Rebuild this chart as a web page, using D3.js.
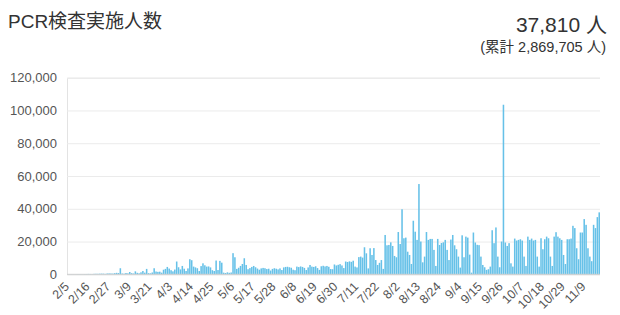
<!DOCTYPE html>
<html>
<head>
<meta charset="utf-8">
<script src="https://cdn.jsdelivr.net/npm/d3@7"></script>
<style>
  body { margin: 0; background: #fff; }
  #container { width: 620px; height: 315px; position: relative; }
  text { font-family: "Liberation Sans", "Noto Sans CJK JP", sans-serif; }
</style>
</head>
<body>
<div id="container"></div>
<script>
"use strict";
// daily PCR tests, one array per month
const febValues = [40, 60, 90, 70, 50, 120, 150, 130, 100, 160, 190, 230, 200, 150, 280, 330, 300, 380, 420, 400, 260, 500, 560, 520, 450];
const marValues = [700, 900, 800, 3700, 500, 400, 800, 600, 1400, 700, 500, 1800, 900, 600, 1200, 2000, 1000, 3300, 700, 600, 1100, 3700, 1700, 1500, 1600, 1000, 2800, 3300];
const aprValues = [4500, 3500, 2500, 1800, 2900, 7800, 4300, 3000, 5100, 3400, 2000, 3600, 9200, 8600, 4700, 4200, 3700, 2000, 5000, 6700, 5500, 4700, 4800, 4200, 2500, 2000, 8400, 2600, 8200, 7100];
const mayValues = [1000, 800, 1200, 900, 1100, 12900, 10400, 3300, 4000, 5100, 6300, 9800, 5700, 3100, 3800, 4500, 5100, 4300, 3500, 2800, 3600, 3900, 3700, 3200, 3400, 2300, 3300, 3700, 3400, 3000, 3600];
const junValues = [2600, 4200, 4500, 4600, 4300, 4000, 2800, 2500, 4700, 4400, 4800, 4500, 3900, 2600, 4200, 5700, 4700, 4500, 4900, 3800, 2700, 4900, 5200, 4800, 5100, 4600, 3200, 3100, 6000, 5400];
const julValues = [5800, 6200, 5400, 3800, 7800, 7500, 7900, 7600, 8300, 4700, 4200, 10500, 10800, 10200, 16500, 12800, 3600, 15900, 11800, 16000, 8700, 5700, 7000, 8700, 3300, 24000, 17700, 17900, 19500, 17300, 11200];
const augValues = [10400, 25800, 18500, 39700, 22000, 22400, 13800, 11800, 6300, 32700, 26000, 21000, 55100, 20000, 7300, 10800, 25800, 21000, 21600, 21600, 14900, 5100, 21600, 17900, 19100, 19500, 21000, 14900, 8700, 21200, 24000];
const sepValues = [17700, 15300, 10800, 4100, 23800, 10400, 23000, 22400, 12000, 1000, 25500, 19400, 18000, 17800, 10800, 5700, 4300, 2700, 3100, 4700, 26900, 19000, 28600, 10800, 4300, 20000, 103500, 19400, 17300, 19000];
const octValues = [6700, 4700, 21800, 20600, 21000, 21400, 20600, 10800, 5100, 23000, 21000, 21800, 20600, 21000, 10800, 4700, 22000, 15300, 21400, 23000, 22000, 10800, 5100, 23000, 25700, 23000, 22000, 21000, 11800, 6300, 21400];
const novValues = [21400, 21800, 29600, 28200, 15900, 9200, 25500, 25500, 33700, 30200, 15900, 10800, 8000, 30200, 28200, 34900, 37810];

// dates with no figure in the source
const skippedDates = ["3/14", "3/28", "3/29"];
const tickLabels = ["2/5", "2/16", "2/27", "3/9", "3/21", "4/3", "4/14", "4/25", "5/6", "5/17", "5/28", "6/8", "6/19", "6/30", "7/11", "7/22", "8/2", "8/13", "8/24", "9/4", "9/15", "9/26", "10/7", "10/18", "10/29", "11/9"];
const yTicks = [0, 20000, 40000, 60000, 80000, 100000, 120000];

const title = "PCR検査実施人数";
const latestText = "37,810 人";
const totalText = "(累計 2,869,705 人)";

const fmtDay = d3.timeFormat("%-m/%-d");
const days = d3.timeDay.range(new Date(2020, 1, 5), new Date(2020, 10, 18))
    .map(fmtDay)
    .filter(d => !skippedDates.includes(d));
const values = [].concat(febValues, marValues, aprValues, mayValues, junValues,
    julValues, augValues, sepValues, octValues, novValues);
const data = days.map((d, i) => ({ day: d, value: values[i] }));

const width = 620, height = 315;
const plotLeft = 67, plotRight = 600, plotTop = 77.7, plotBottom = 274.3;

const svg = d3.select("#container").append("svg")
    .attr("width", width)
    .attr("height", height);

const x = d3.scaleBand()
    .domain(days)
    .range([plotLeft, plotRight])
    .paddingInner(0.18);

const y = d3.scaleLinear()
    .domain([0, 120000])
    .range([plotBottom, plotTop]);

// header texts
svg.append("text")
    .attr("x", 8)
    .attr("y", 28)
    .attr("font-size", 19)
    .attr("fill", "#333")
    .text(title);

svg.append("text")
    .attr("x", 607)
    .attr("y", 32)
    .attr("text-anchor", "end")
    .attr("font-size", 21)
    .attr("fill", "#333")
    .text(latestText);

svg.append("text")
    .attr("x", 606)
    .attr("y", 52)
    .attr("text-anchor", "end")
    .attr("font-size", 14.5)
    .attr("fill", "#333")
    .text(totalText);

// grid + y labels
const yAxis = d3.axisLeft(y)
    .tickValues(yTicks)
    .tickSize(-(plotRight - plotLeft))
    .tickPadding(10)
    .tickFormat(d3.format(","));

svg.append("g")
    .attr("transform", `translate(${plotLeft},0)`)
    .call(yAxis)
    .call(g => g.select(".domain").attr("stroke", "#e3e3e3"))
    .call(g => g.selectAll(".tick line").attr("stroke", "#ebebeb"))
    .call(g => g.selectAll(".tick text")
        .attr("font-size", 13)
        .attr("fill", "#555"));

// bars
svg.append("g")
    .selectAll("rect")
    .data(data)
    .enter().append("rect")
        .attr("x", d => x(d.day))
        .attr("width", x.bandwidth())
        .attr("y", d => y(d.value))
        .attr("height", d => y(0) - y(d.value))
        .attr("fill", "#66c1e8");

// baseline
svg.append("line")
    .attr("x1", plotLeft).attr("x2", plotRight)
    .attr("y1", plotBottom).attr("y2", plotBottom)
    .attr("stroke", "#cfcfcf");

// x labels, rotated
const xAxis = d3.axisBottom(x)
    .tickValues(tickLabels)
    .tickSize(0)
    .tickPadding(0);

svg.append("g")
    .attr("transform", `translate(0,${plotBottom})`)
    .call(xAxis)
    .call(g => g.select(".domain").remove())
    .call(g => g.selectAll(".tick text")
        .attr("font-size", 12.5)
        .attr("fill", "#555")
        .attr("text-anchor", "end")
        .attr("dy", "0.35em")
        .attr("transform", "translate(-1,10) rotate(-45)"));
</script>
</body>
</html>
